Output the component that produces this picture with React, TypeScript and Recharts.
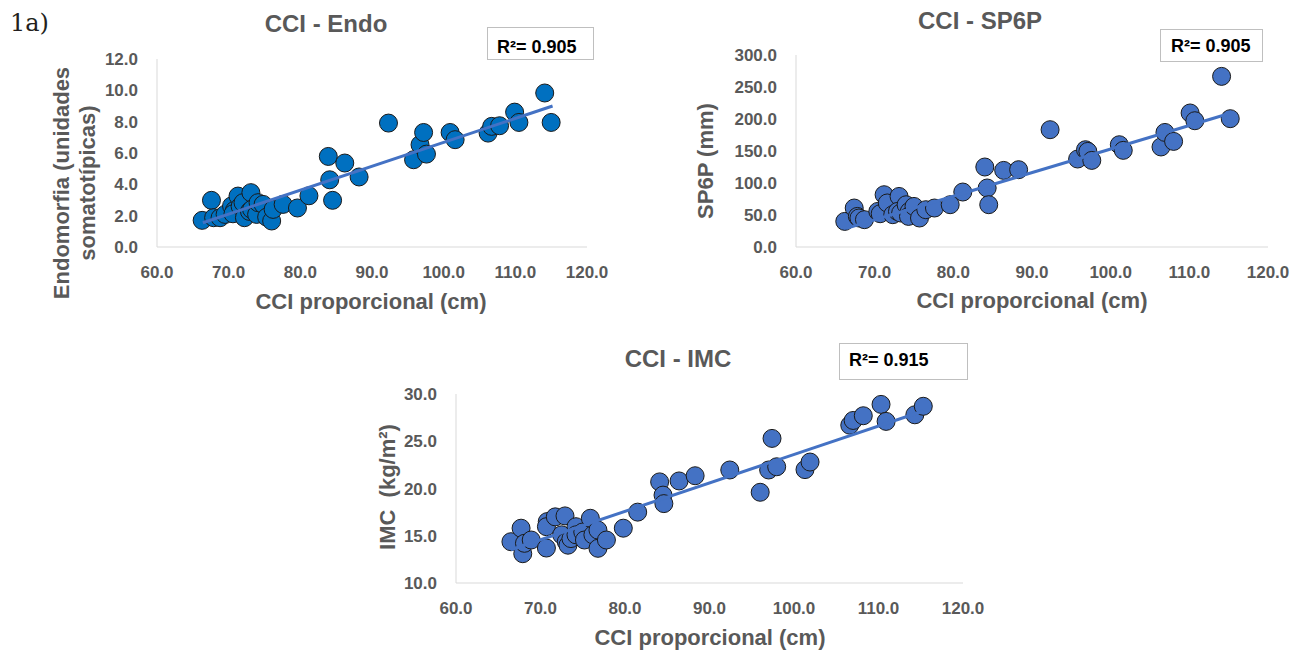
import React from "react";
import { ScatterChart, Scatter, XAxis, YAxis } from "recharts";

// ---------- data ----------
const endoX = [66.3, 67.6, 67.9, 68.8, 69.5, 70.4, 70.8, 70.6, 71.3, 71.6, 72.0, 72.2, 73.1, 72.9, 73.2, 73.9, 74.1, 74.8, 75.3, 76.0, 76.2, 77.6, 79.6, 81.2, 83.9, 84.1, 84.5, 86.2, 88.2, 92.3, 95.8, 96.7, 97.2, 97.6, 100.9, 101.6, 106.2, 106.7, 107.8, 109.9, 110.5, 114.1, 115.0];
const endoY = [1.70, 2.98, 1.87, 1.87, 2.08, 2.62, 2.34, 2.12, 3.25, 2.59, 2.83, 1.87, 3.47, 2.27, 2.40, 2.08, 2.83, 2.72, 1.91, 1.66, 2.40, 2.72, 2.49, 3.27, 5.78, 4.29, 2.98, 5.36, 4.47, 7.91, 5.57, 6.53, 7.31, 5.93, 7.31, 6.85, 7.27, 7.70, 7.74, 8.61, 7.95, 9.83, 7.95];
const endoTrendX = [66.4, 115.2];
const endoTrendY = [1.55, 9.0];

const sp6pX = [66.2, 67.4, 67.8, 68.0, 68.7, 70.4, 70.7, 71.2, 71.6, 72.3, 73.1, 72.9, 73.3, 74.0, 74.4, 74.3, 75.0, 75.7, 76.5, 77.6, 79.6, 81.2, 84.0, 84.3, 84.5, 86.4, 88.3, 92.3, 95.8, 96.8, 97.1, 97.6, 101.1, 101.6, 106.4, 106.9, 108.0, 110.1, 110.7, 114.1, 115.2];
const sp6pY = [40, 60.9, 47.8, 45.3, 42.7, 55.6, 52, 81.7, 68.8, 50.5, 79, 55.6, 53.1, 66, 55.6, 47.8, 63.4, 45.3, 58.3, 60.9, 66.1, 85.9, 125, 92.2, 66.1, 119.7, 120.8, 183.3, 137.5, 152, 149.4, 135.3, 159.8, 151, 156.3, 179, 165, 209.4, 197.3, 266.6, 200.5];
const sp6pTrendX = [66.4, 115.2];
const sp6pTrendY = [29.3, 209];

const imcX = [66.5, 67.7, 67.9, 68.1, 68.9, 70.7, 70.8, 70.7, 71.75, 72.9, 72.5, 73.05, 73.25, 73.6, 74.2, 74.2, 75.0, 75.2, 75.9, 76.2, 76.8, 76.8, 77.8, 79.8, 81.5, 84.1, 84.5, 84.6, 86.4, 88.3, 92.4, 96.0, 97.0, 97.4, 97.95, 101.3, 101.9, 106.6, 107.0, 108.2, 110.3, 110.9, 114.3, 115.3];
const imcY = [14.37, 15.8, 13.1, 14.2, 14.55, 13.7, 16.5, 15.96, 17.0, 17.1, 15.1, 14.37, 14.0, 14.7, 15.96, 15.1, 15.4, 14.55, 16.85, 15.1, 13.67, 15.6, 14.55, 15.8, 17.5, 20.7, 19.3, 18.4, 20.8, 21.35, 21.96, 19.6, 21.96, 25.3, 22.3, 22.0, 22.8, 26.7, 27.2, 27.7, 28.9, 27.1, 27.8, 28.7];
const imcTrendX = [66.5, 115.3];
const imcTrendY = [13.52, 28.2];

const xTicks = [60, 70, 80, 90, 100, 110, 120];
const endoTicks = [0, 2, 4, 6, 8, 10, 12];
const sp6pTicks = [0, 50, 100, 150, 200, 250, 300];
const imcTicks = [10, 15, 20, 25, 30];

const zip = (xs: number[], ys: number[]) => xs.map((x, i) => ({ x, y: ys[i] }));

// ---------- styles ----------
const GREY = "#595959";
const AXIS = "#d9d9d9";
const TREND = "#4472C4";
const SANS = "'Liberation Sans', Arial, sans-serif";
const tickStyle = { fill: GREY, fontSize: 17, fontWeight: "bold" as const, fontFamily: SANS };

const dot = (fill: string) => (p: any) => (
  <circle cx={p.cx} cy={p.cy} r={9} fill={fill} stroke="#1a1a1a" strokeWidth={1} />
);
const noDot = () => <g />;

type PanelProps = {
  left: number; top: number; width: number; height: number;
  margin: { top: number; right: number; bottom: number; left: number };
  pts: { x: number; y: number }[];
  trend: { x: number; y: number }[];
  yDomain: [number, number];
  yTicks: number[];
  fill: string;
};

function Panel(p: PanelProps) {
  return (
    <div style={{ position: "absolute", left: p.left, top: p.top }}>
      <ScatterChart width={p.width} height={p.height} margin={p.margin}>
        <XAxis
          type="number" dataKey="x" domain={[60, 120]} ticks={xTicks} interval={0}
          tickFormatter={(v: number) => v.toFixed(1)} tick={tickStyle}
          axisLine={{ stroke: AXIS }} tickLine={false} tickMargin={13} height={30}
          allowDataOverflow
        />
        <YAxis
          type="number" dataKey="y" domain={p.yDomain} ticks={p.yTicks} interval={0}
          tickFormatter={(v: number) => v.toFixed(1)} tick={tickStyle}
          axisLine={{ stroke: AXIS }} tickLine={false} tickMargin={13} width={60}
          allowDataOverflow
        />
        <Scatter data={p.pts} shape={dot(p.fill)} isAnimationActive={false} />
        <Scatter data={p.trend} shape={noDot} line={{ stroke: TREND, strokeWidth: 3 }} isAnimationActive={false} />
      </ScatterChart>
    </div>
  );
}

const titleStyle = { fill: GREY, fontSize: 24, fontWeight: "bold" as const, fontFamily: SANS };
const axisLabelStyle = { fill: GREY, fontSize: 22, fontWeight: "bold" as const, fontFamily: SANS };
const r2Style = { fill: "#000", fontSize: 18, fontWeight: "bold" as const, fontFamily: SANS };

export default function App() {
  return (
    <div style={{ position: "absolute", left: 0, top: 0, width: 1291, height: 650, background: "#fff", overflow: "hidden" }}>
      <Panel
        left={0} top={0} width={620} height={320}
        margin={{ top: 59, right: 33, bottom: 43, left: 97 }}
        pts={zip(endoX, endoY)} trend={zip(endoTrendX, endoTrendY)}
        yDomain={[0, 12]} yTicks={endoTicks} fill="#0070C0"
      />
      <Panel
        left={640} top={0} width={651} height={320}
        margin={{ top: 55, right: 23, bottom: 43, left: 96 }}
        pts={zip(sp6pX, sp6pY)} trend={zip(sp6pTrendX, sp6pTrendY)}
        yDomain={[0, 300]} yTicks={sp6pTicks} fill="#4472C4"
      />
      <Panel
        left={360} top={330} width={650} height={320}
        margin={{ top: 64, right: 47, bottom: 37, left: 36 }}
        pts={zip(imcX, imcY)} trend={zip(imcTrendX, imcTrendY)}
        yDomain={[10, 30]} yTicks={imcTicks} fill="#4472C4"
      />
      <svg width={1291} height={650} style={{ position: "absolute", left: 0, top: 0, pointerEvents: "none" }}>
        <text x={10} y={31} fontFamily="'DejaVu Serif', serif" fontSize={24} fill="#231f20">1a)</text>

        <text x={326} y={32} textAnchor="middle" style={titleStyle}>CCI - Endo</text>
        <text x={980} y={29} textAnchor="middle" style={titleStyle}>CCI - SP6P</text>
        <text x={678} y={367} textAnchor="middle" style={titleStyle}>CCI - IMC</text>

        <text x={371} y={309} textAnchor="middle" style={axisLabelStyle}>CCI proporcional (cm)</text>
        <text x={1032} y={308} textAnchor="middle" style={axisLabelStyle}>CCI proporcional (cm)</text>
        <text x={710} y={645} textAnchor="middle" style={axisLabelStyle}>CCI proporcional (cm)</text>

        <text transform="translate(61,183) rotate(-90)" textAnchor="middle" dominantBaseline="central" style={axisLabelStyle}>Endomorfia (unidades</text>
        <text transform="translate(87,183) rotate(-90)" textAnchor="middle" dominantBaseline="central" style={axisLabelStyle}>somatotípicas)</text>
        <text transform="translate(705,161) rotate(-90)" textAnchor="middle" dominantBaseline="central" style={axisLabelStyle}>SP6P (mm)</text>
        <text transform="translate(387,487) rotate(-90)" textAnchor="middle" dominantBaseline="central" style={{ ...axisLabelStyle, whiteSpace: "pre" }}>IMC  (kg/m²)</text>

        <rect x={487.5} y={27.5} width={106} height={32} fill="#fff" stroke="#bfbfbf" strokeWidth={1} />
        <text x={497} y={53} style={r2Style}>R²= 0.905</text>
        <rect x={1160.5} y={29.5} width={102} height={32} fill="#fff" stroke="#bfbfbf" strokeWidth={1} />
        <text x={1171} y={52} style={r2Style}>R²= 0.905</text>
        <rect x={839.5} y={343.5} width={128} height={36} fill="#fff" stroke="#bfbfbf" strokeWidth={1} />
        <text x={849} y={366} style={r2Style}>R²= 0.915</text>
      </svg>
    </div>
  );
}
